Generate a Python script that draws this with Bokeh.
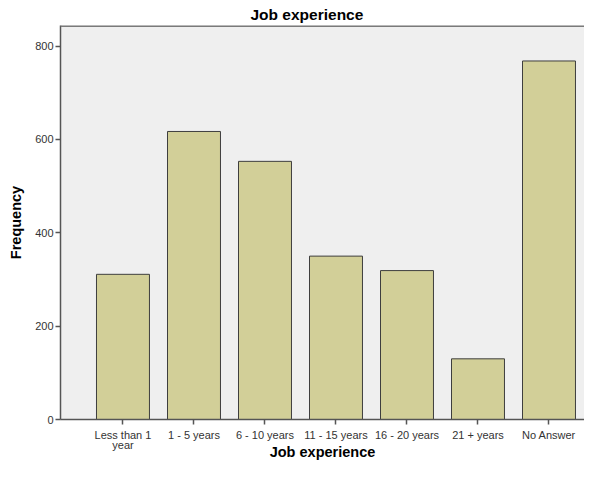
from bokeh.plotting import figure
from bokeh.models import Range1d, FixedTicker, ColumnDataSource, Title, Span
from bokeh.embed import file_html
from bokeh.resources import INLINE

categories = ["Less than 1\nyear", "1 - 5 years", "6 - 10 years", "11 - 15 years",
              "16 - 20 years", "21 + years", "No Answer"]
frequency = [311, 617, 553, 350, 319, 130, 768]
y_ticks = [0, 200, 400, 600, 800]
y_max = 844

positions = list(range(len(categories)))
src = ColumnDataSource(dict(x=positions, top=frequency))

p = figure(width=584, height=463, output_backend="svg", toolbar_location=None,
           x_range=Range1d(-0.88, 6.5), y_range=Range1d(0, y_max),
           min_border_left=60, min_border_right=0, min_border_top=24, min_border_bottom=44)

p.title = Title(text="Job experience", align="left", offset=190,
                text_font="Liberation Sans", text_font_size="15.5px",
                text_font_style="bold", text_color="#000000", standoff=6)

p.vbar(x="x", top="top", width=0.746, bottom=0, source=src,
       fill_color="#d2cf98", line_color="#3e3e3e", line_width=1)

p.background_fill_color = "#efefef"
p.border_fill_color = "#ffffff"
p.outline_line_color = None
p.xgrid.visible = False
p.ygrid.visible = False

# top frame line only (the reference's frame runs off the right edge)
p.add_layout(Span(location=y_max, dimension="width", line_color="#7a7a7a", line_width=3))

p.xaxis.ticker = FixedTicker(ticks=positions)
p.xaxis.major_label_overrides = {i: c for i, c in zip(positions, categories)}
p.yaxis.ticker = FixedTicker(ticks=y_ticks)

for ax in (p.xaxis[0], p.yaxis[0]):
    ax.axis_line_color = "#555555"
    ax.axis_line_width = 1.5
    ax.major_tick_line_color = "#555555"
    ax.major_tick_line_width = 1.5
    ax.major_tick_in = 0
    ax.major_tick_out = 5
    ax.minor_tick_line_color = None
    ax.major_label_text_font = "Liberation Sans"
    ax.major_label_text_font_size = "11px"
    ax.major_label_text_color = "#333333"
    ax.major_label_text_line_height = 0.9
    ax.axis_label_text_font = "Liberation Sans"
    ax.axis_label_text_font_size = "14.5px"
    ax.axis_label_text_font_style = "bold"
    ax.axis_label_text_color = "#000000"

p.xaxis.axis_label = "Job experience"
p.yaxis.axis_label = "Frequency"
p.xaxis.major_label_standoff = 4
p.xaxis.axis_label_standoff = -10
p.yaxis.major_label_standoff = 2
p.yaxis.axis_label_standoff = 8

open("out.html", "w").write(file_html(p, INLINE))
